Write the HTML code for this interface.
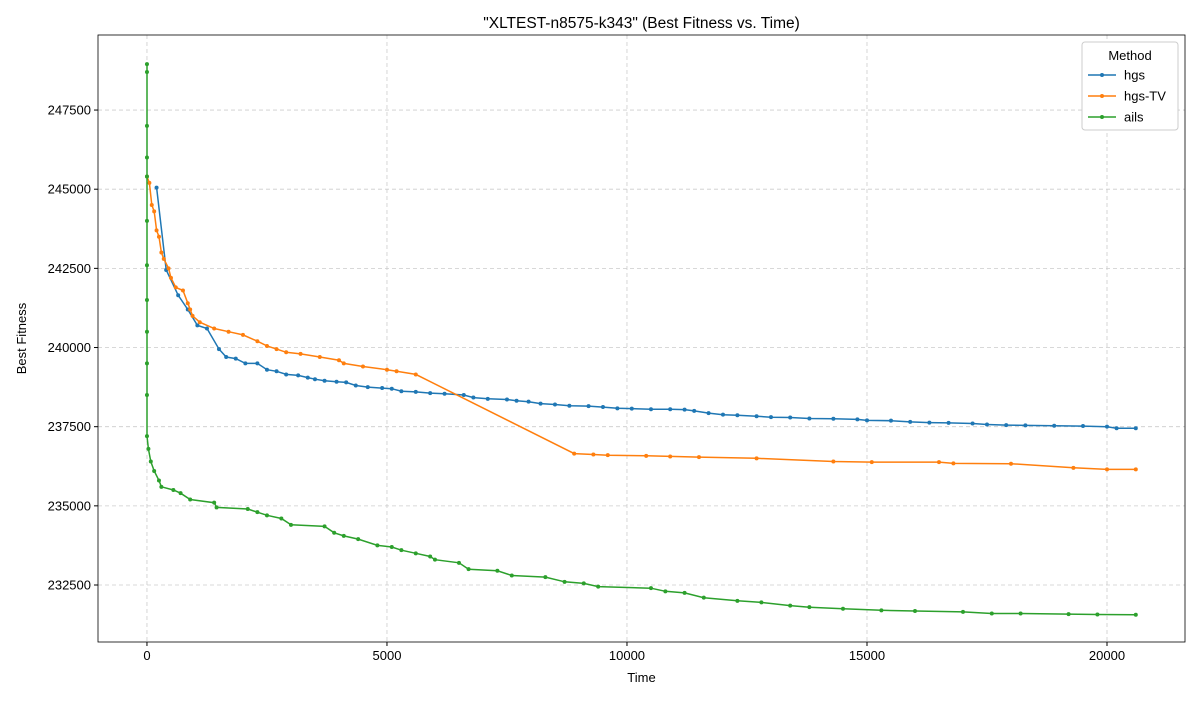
<!DOCTYPE html>
<html><head><meta charset="utf-8"><style>
body{margin:0;background:#fff;font-family:"Liberation Sans","DejaVu Sans",sans-serif;}
svg text{font-family:"Liberation Sans","DejaVu Sans",sans-serif;}
</style></head><body>
<svg id="chart" width="1200" height="700" xmlns="http://www.w3.org/2000/svg"></svg>
<script>
const xTicks=[0,5000,10000,15000,20000];
const yTicks=[232500,235000,237500,240000,242500,245000,247500];
const seriesNames=["hgs","hgs-TV","ails"];
const seriesColors=["#1f77b4","#ff7f0e","#2ca02c"];
const hgsX=[200,400,650,850,1050,1250,1500,1650,1850,2050,2300,2500,2700,2900,3150,3350,3500,3700,3950,4150,4350,4600,4900,5100,5300,5600,5900,6200,6600,6800,7100,7500,7700,7950,8200,8500,8800,9200,9500,9800,10100,10500,10900,11200,11400,11700,12000,12300,12700,13000,13400,13800,14300,14800,15000,15500,15900,16300,16700,17200,17500,17900,18300,18900,19500,20000,20200,20600];
const hgsY=[245050,242450,241650,241200,240700,240600,239950,239700,239650,239500,239500,239300,239250,239150,239120,239050,239000,238950,238920,238900,238800,238750,238720,238700,238620,238600,238560,238540,238500,238420,238380,238360,238320,238290,238230,238200,238160,238150,238120,238080,238070,238050,238050,238040,238000,237930,237880,237860,237830,237800,237790,237760,237750,237730,237700,237690,237650,237630,237620,237600,237570,237550,237540,237530,237520,237500,237450,237450];
const tvX=[0,50,100,150,200,250,300,350,450,500,600,750,850,900,950,1100,1400,1700,2000,2300,2500,2700,2900,3200,3600,4000,4100,4500,5000,5200,5600,8900,9300,9600,10400,10900,11500,12700,14300,15100,16500,16800,18000,19300,20000,20600];
const tvY=[245400,245200,244500,244300,243700,243500,243000,242800,242500,242200,241900,241800,241400,241200,241000,240800,240600,240500,240400,240200,240050,239950,239850,239800,239700,239600,239500,239400,239300,239250,239150,236650,236620,236600,236580,236560,236540,236500,236400,236380,236380,236340,236330,236200,236150,236150];
const ailsX=[0,0,0,0,0,0,0,0,0,0,0,0,30,80,150,250,300,550,700,900,1400,1450,2100,2300,2500,2800,3000,3700,3900,4100,4400,4800,5100,5300,5600,5900,6000,6500,6700,7300,7600,8300,8700,9100,9400,10500,10800,11200,11600,12300,12800,13400,13800,14500,15300,16000,17000,17600,18200,19200,19800,20600];
const ailsY=[248950,248700,247000,246000,245400,244000,242600,241500,240500,239500,238500,237200,236800,236400,236100,235800,235600,235500,235400,235200,235100,234950,234900,234800,234700,234600,234400,234350,234150,234050,233950,233750,233700,233600,233500,233400,233300,233200,233000,232950,232800,232750,232600,232550,232450,232400,232300,232250,232100,232000,231950,231850,231800,231750,231700,231680,231650,231600,231600,231580,231570,231560];

const L=98,R=1185,T=35,B=642;
const xMin=-1020,xMax=21625,yMin=230700,yMax=249870;
const sx=v=>L+(v-xMin)/(xMax-xMin)*(R-L);
const sy=v=>B-(v-yMin)/(yMax-yMin)*(B-T);
const NS="http://www.w3.org/2000/svg";
const svg=document.getElementById('chart');
function mk(tag,attrs,parent){const e=document.createElementNS(NS,tag);for(const k in attrs)e.setAttribute(k,attrs[k]);(parent||svg).appendChild(e);return e;}

const grid=mk('g',{});


xTicks.forEach(t=>{mk('line',{x1:sx(t),x2:sx(t),y1:T,y2:B,stroke:'#ccc','stroke-dasharray':'4,3','stroke-width':0.8},grid);});
yTicks.forEach(t=>{mk('line',{x1:L,x2:R,y1:sy(t),y2:sy(t),stroke:'#ccc','stroke-dasharray':'4,3','stroke-width':0.8},grid);});

const xs=[hgsX,tvX,ailsX],ys=[hgsY,tvY,ailsY];
xs.forEach((X,i)=>{
  const g=mk('g',{});
  
  
  const pts=X.map((x,j)=>sx(x).toFixed(1)+','+sy(ys[i][j]).toFixed(1)).join(' ');
  mk('polyline',{points:pts,fill:'none',stroke:seriesColors[i],'stroke-width':1.5},g);
  X.forEach((x,j)=>{mk('circle',{cx:sx(x),cy:sy(ys[i][j]),r:2,fill:seriesColors[i]},g);});
});

const ax=mk('rect',{x:L,y:T,width:R-L,height:B-T,fill:'none',stroke:'#000','stroke-width':0.8});


xTicks.forEach(t=>{mk('line',{x1:sx(t),x2:sx(t),y1:B,y2:B+4,stroke:'#000'});
  const tx=mk('text',{x:sx(t),y:B+18,'text-anchor':'middle','font-size':13});tx.textContent=t;
  
  });
yTicks.forEach(t=>{mk('line',{x1:L-4,x2:L,y1:sy(t),y2:sy(t),stroke:'#000'});
  const tx=mk('text',{x:L-7,y:sy(t)+4.5,'text-anchor':'end','font-size':13});tx.textContent=t;
  
  });

const title=mk('text',{x:(L+R)/2,y:28,'text-anchor':'middle','font-size':15.5});
title.textContent='"XLTEST-n8575-k343" (Best Fitness vs. Time)';


const xl=mk('text',{x:(L+R)/2,y:682,'text-anchor':'middle','font-size':13});xl.textContent='Time';


const yl=mk('text',{x:26,y:(T+B)/2,'text-anchor':'middle','font-size':13,transform:'rotate(-90 26 '+((T+B)/2)+')'});yl.textContent='Best Fitness';



const lg=mk('g',{});


mk('rect',{x:1082,y:42,width:96,height:88,rx:3,fill:'#fff',stroke:'#ccc'},lg);
const lt=mk('text',{x:1130,y:60,'text-anchor':'middle','font-size':13},lg);lt.textContent='Method';
seriesNames.forEach((n,i)=>{
  const y=75+i*21;
  const e=mk('g',{},lg);
  
  
  mk('line',{x1:1088,x2:1116,y1:y,y2:y,stroke:seriesColors[i],'stroke-width':1.5},e);
  mk('circle',{cx:1102,cy:y,r:2,fill:seriesColors[i]},e);
  const t=mk('text',{x:1124,y:y+4.5,'font-size':13},e);t.textContent=n;
});
</script>
</body></html>
